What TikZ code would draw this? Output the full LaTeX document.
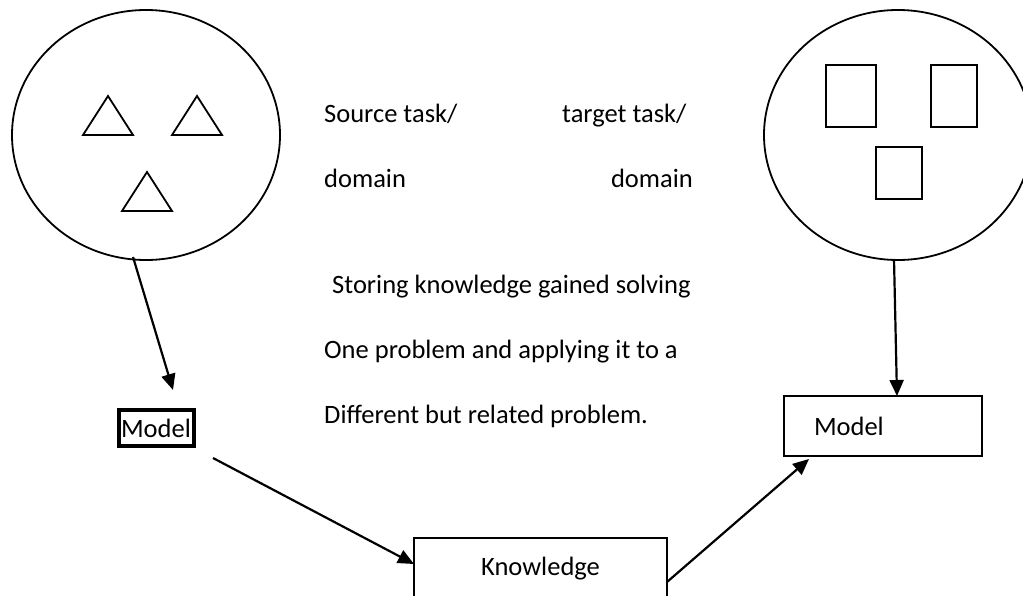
\documentclass[tikz,border=0pt]{standalone}
\usepackage{fontspec}
\setmainfont{Carlito}
\usetikzlibrary{shapes.geometric,arrows.meta,calc}
\begin{document}
\begin{tikzpicture}[x=1pt,y=-1pt,
  every node/.style={font=\fontsize{26.5pt}{32pt}\selectfont},
  domainshape/.style={draw,ellipse,line width=1.8pt,minimum width=268pt,minimum height=250pt,inner sep=0pt},
  shapeline/.style={draw,line width=1.8pt},
  boxnode/.style={draw,rectangle,line width=1.8pt,inner sep=0pt},
  arr/.style={line width=2.2pt,-{Triangle[length=16pt,width=14pt]}},
  txt/.style={anchor=base west,inner sep=0pt}]
\useasboundingbox (0,0) rectangle (1023,596);
% left domain
\node[domainshape] (L) at (146,135) {};
\draw[shapeline,line join=miter] (108,96) -- (133,135) -- (83,135) -- cycle;
\draw[shapeline,line join=miter] (197,96) -- (222,135) -- (172,135) -- cycle;
\draw[shapeline,line join=miter] (147,172) -- (172,211) -- (122,211) -- cycle;
% right domain
\node[domainshape] (R) at (898,135) {};
\draw[shapeline] (826,65) rectangle (876,127);
\draw[shapeline] (931,65) rectangle (977,127);
\draw[shapeline] (876,147) rectangle (922,199);
% boxes
\node[boxnode,line width=4pt,minimum width=75pt,minimum height=36pt] (M1) at (156,428) {Model};
\node[boxnode,minimum width=198pt,minimum height=60pt] (M2) at (883,426) {\makebox[138pt][l]{Model}};
\node[boxnode,minimum width=253pt,minimum height=62pt] (K) at (540.5,569) {Knowledge};
% texts
\node[txt] (t1) at (324,123) {Source task/};
\node[txt] (t2) at (562,123) {target task/};
\node[txt] (t3) at (324,188) {domain};
\node[txt,anchor=base east] (t4) at (693,188) {domain};
\node[txt] (t5) at (332,293) {Storing knowledge gained solving};
\node[txt] (t6) at (324,358) {One problem and applying it to a};
\node[txt] (t7) at (324,423) {Different but related problem.};
% connector ends
\coordinate (a1s) at (133,257);
\coordinate (a1e) at (173,390);
\coordinate (a2s) at (213,458);
\coordinate (a2e) at (414,564);
\coordinate (a3s) at (667,582);
\coordinate (a3e) at (809,459);
\coordinate (a4s) at (894,259);
\coordinate (a4e) at (897,396);
\draw[arr] (a1s) -- (a1e);
\draw[arr] (a2s) -- (a2e);
\draw[arr] (a3s) -- (a3e);
\draw[arr] (a4s) -- (a4e);
\end{tikzpicture}
\end{document}
